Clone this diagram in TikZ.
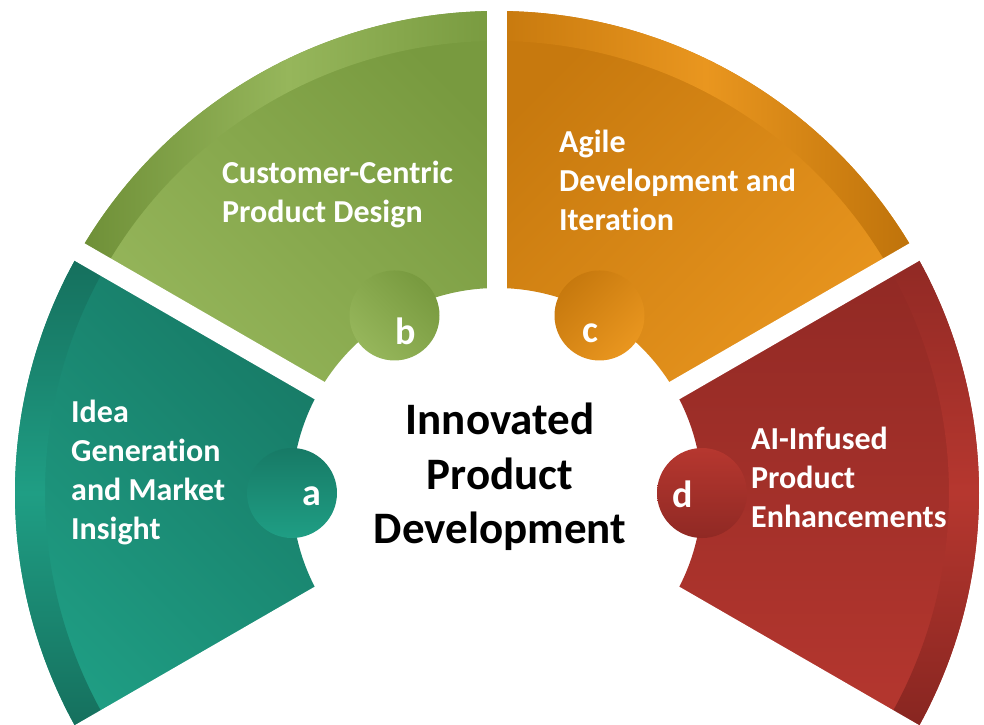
\documentclass[tikz,border=0pt]{standalone}
\usepackage{fontspec}
\setmainfont{Carlito}[Ligatures={NoCommon,NoRare}]
\definecolor{tealA}{HTML}{1F9E84}
\definecolor{tealB}{HTML}{177A66}
\definecolor{tealC}{HTML}{156E5C}
\definecolor{greenA}{HTML}{96B65B}
\definecolor{greenB}{HTML}{789A3F}
\definecolor{greenC}{HTML}{6E8F37}
\definecolor{orangeA}{HTML}{E9961F}
\definecolor{orangeB}{HTML}{C7790E}
\definecolor{orangeC}{HTML}{BE720A}
\definecolor{redA}{HTML}{B6372F}
\definecolor{redB}{HTML}{902924}
\definecolor{redC}{HTML}{862520}
\begin{document}
\begin{tikzpicture}[x=1pt,y=1pt,
        gapline/.style={white,line width=20pt},
        tabdot/.style={circle,minimum size=90pt,inner sep=0pt},
        tabletter/.style={text=white,inner sep=0pt,font=\bfseries\fontsize{38}{38}\selectfont},
        itemtext/.style={text=white,align=left,anchor=north west,inner sep=0pt,
            font=\bfseries\fontsize{32}{39}\selectfont}]
\useasboundingbox (-497,-231) rectangle (487,493);

\shade[bottom color=tealA,top color=tealB,shading angle=-45] (150:482) arc[start angle=150,delta angle=60,radius=482] -- (210:205) arc[start angle=210,delta angle=-60,radius=205] -- cycle;
\shade[bottom color=greenA,top color=greenB,shading angle=-45] (90:482) arc[start angle=90,delta angle=60,radius=482] -- (150:205) arc[start angle=150,delta angle=-60,radius=205] -- cycle;
\shade[bottom color=orangeA,top color=orangeB,shading angle=45] (30:482) arc[start angle=30,delta angle=60,radius=482] -- (90:205) arc[start angle=90,delta angle=-60,radius=205] -- cycle;
\shade[bottom color=redA,top color=redB] (-30:482) arc[start angle=-30,delta angle=60,radius=482] -- (30:205) arc[start angle=30,delta angle=-60,radius=205] -- cycle;

\shade[top color=tealC,bottom color=tealC,middle color=tealA] (150:482) arc[start angle=150,delta angle=60,radius=482] -- (210:452) arc[start angle=210,delta angle=-60,radius=452] -- cycle;
\shade[left color=greenC,right color=greenB,middle color=greenA] (90:482) arc[start angle=90,delta angle=60,radius=482] -- (150:452) arc[start angle=150,delta angle=-60,radius=452] -- cycle;
\shade[left color=orangeB,right color=orangeC,middle color=orangeA] (30:482) arc[start angle=30,delta angle=60,radius=482] -- (90:452) arc[start angle=90,delta angle=-60,radius=452] -- cycle;
\shade[top color=redB,bottom color=redC,middle color=redA] (-30:482) arc[start angle=-30,delta angle=60,radius=482] -- (30:452) arc[start angle=30,delta angle=-60,radius=452] -- cycle;

\foreach \a in {-30,30,90,150,210}
    \draw[gapline] (0,0) -- (\a:520);

\node[tabdot,bottom color=tealA,top color=tealB] (taba) at (180:205) {};
\node[tabdot,bottom color=greenA,top color=greenB,shading angle=-45] (tabb) at (120:205) {};
\node[tabdot,bottom color=orangeA,top color=orangeB,shading angle=45] (tabc) at (60:205) {};
\node[tabdot,top color=redA,bottom color=redB] (tabd) at (0:205) {};

\node[tabletter] (a) at (-185,-3) {a};
\node[tabletter] (b) at (-91,162) {b};
\node[tabletter] (c) at (93,160) {c};
\node[tabletter] (d) at (186,-1) {d};

\node[align=center,font=\bfseries\fontsize{45}{54.5}\selectfont] (hub) at (3,16) {Innovated\\Product\\Development};

\node[itemtext] (idea) at (-426,93.5) {Idea\\Generation\\and Market\\Insight};
\node[itemtext] (design) at (-275,332.5) {Customer-Centric\\Product Design};
\node[itemtext] (agile) at (62,363.5) {Agile\\Development and\\Iteration};
\node[itemtext] (ai) at (254,66.5) {AI-Infused\\Product\\Enhancements};
\end{tikzpicture}
\end{document}
